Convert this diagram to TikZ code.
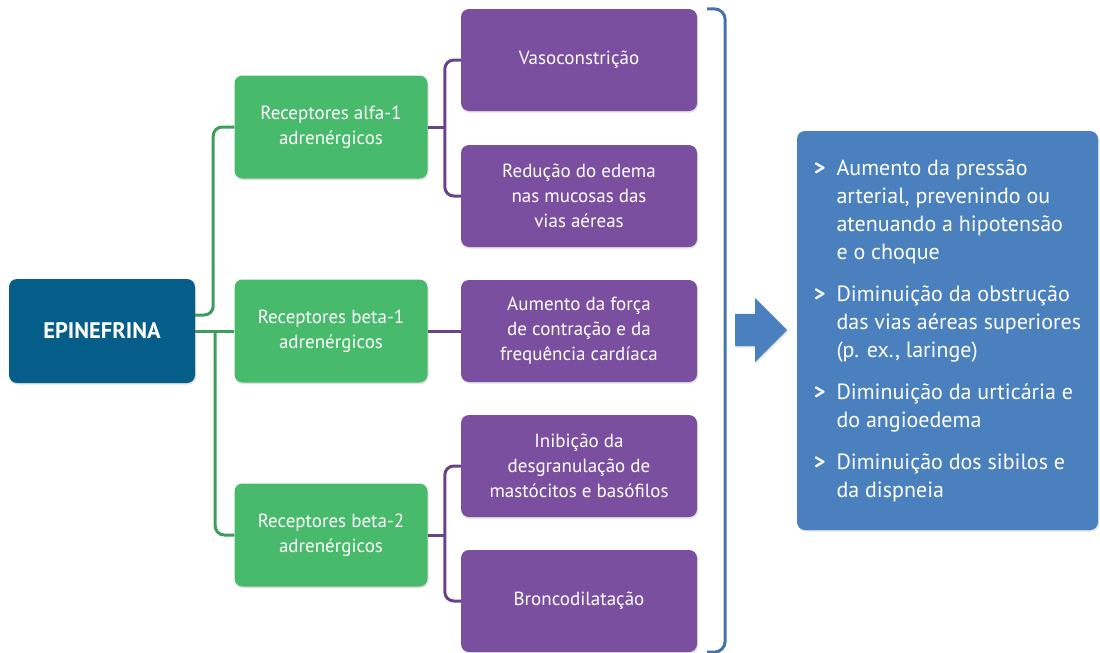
\documentclass[tikz,border=0pt]{standalone}
\usepackage{fontspec}
\setmainfont{PT Sans}
\usepackage{tikz}
\usetikzlibrary{shapes.arrows,shadows}

\definecolor{epiblue}{RGB}{5,94,138}
\definecolor{recgreen}{RGB}{72,186,108}
\definecolor{effpurple}{RGB}{123,79,160}
\definecolor{outblue}{RGB}{74,128,189}

\begin{document}
\begin{tikzpicture}[x=1pt, y=-1pt, font=\fontsize{19}{25}\selectfont]
  \useasboundingbox (0,0) rectangle (1100,653);
  \tikzset{
    box/.style={rounded corners=8pt, align=center, text=white, inner sep=4pt,
      drop shadow={opacity=0.25, shadow xshift=1pt, shadow yshift=-1.5pt}},
    drugbox/.style={box, fill=epiblue, minimum width=186pt, minimum height=104pt,
      font=\fontsize{22.5}{25}\selectfont\bfseries},
    recbox/.style={box, fill=recgreen, minimum width=193pt, minimum height=103pt},
    effbox/.style={box, fill=effpurple, minimum width=236pt, minimum height=102pt},
    gline/.style={recgreen!85!black, line width=3pt, rounded corners=9pt},
    pline/.style={effpurple!85!black, line width=3pt, rounded corners=9pt},
    bline/.style={outblue!90!black, line width=3pt, rounded corners=11pt}}
  % drug, its receptors and what each one does
  \node[drugbox] (epi) at (102,331) {EPINEFRINA};
  \foreach \name/\y/\txt in {
    alfa1/127/{Receptores alfa-1\\adrenérgicos},
    beta1/331/{Receptores beta-1\\adrenérgicos},
    beta2/535/{Receptores beta-2\\adrenérgicos}}
    \node[recbox] (\name) at (331,\y) {\txt};
  \foreach \name/\y/\txt in {
    vaso/60/{Vasoconstrição},
    edema/196/{Redução do edema\\nas mucosas das\\vias aéreas},
    forca/331/{Aumento da força\\de contração e da\\frequência cardíaca},
    mast/466/{Inibição da\\desgranulação de\\mastócitos e basófilos},
    bronco/601/{Broncodilatação}}
    \node[effbox] (\name) at (579,\y) {\txt};
  \draw[gline] ([yshift=16pt]epi.east) -- ++(18,0) |- (alfa1.west);
  \draw[gline] (epi.east) -- (beta1.west);
  \draw[gline] (epi.east) ++(20,0) |- (beta2.west);
  \draw[pline] (alfa1.east) -- ++(17,0);
  \draw[pline] (vaso.west) -- ++(-16,0) |- (edema.west);
  \draw[pline] (beta1.east) -- (forca.west);
  \draw[pline] (beta2.east) -- ++(17,0);
  \draw[pline] (mast.west) -- ++(-16,0) |- (bronco.west);
  \draw[bline] ([xshift=10pt]vaso.north east) -| ([xshift=28pt]bronco.south east)
    -- ([xshift=10pt]bronco.south east);
  \node[single arrow, fill=outblue, minimum height=52pt, inner xsep=0pt, inner ysep=16pt,
    single arrow head extend=16pt, anchor=tail,
    drop shadow={opacity=0.25, shadow xshift=1pt, shadow yshift=-1.5pt}] (arrow) at (735,330) {};
  \node[box, fill=outblue, minimum width=301pt, minimum height=399pt,
    font=\fontsize{22}{28}\selectfont] (result) at (947.5,330.5) {%
    \begin{tabular}{@{}l@{\hspace{11pt}}l@{}}
      \textbf{>} & Aumento da pressão\\
        & arterial, prevenindo ou\\
        & atenuando a hipotensão\\
        & e o choque\\[14pt]
      \textbf{>} & Diminuição da obstrução\\
        & das vias aéreas superiores\\
        & (p. ex., laringe)\\[14pt]
      \textbf{>} & Diminuição da urticária e\\
        & do angioedema\\[14pt]
      \textbf{>} & Diminuição dos sibilos e\\
        & da dispneia
    \end{tabular}};
\end{tikzpicture}
\end{document}
